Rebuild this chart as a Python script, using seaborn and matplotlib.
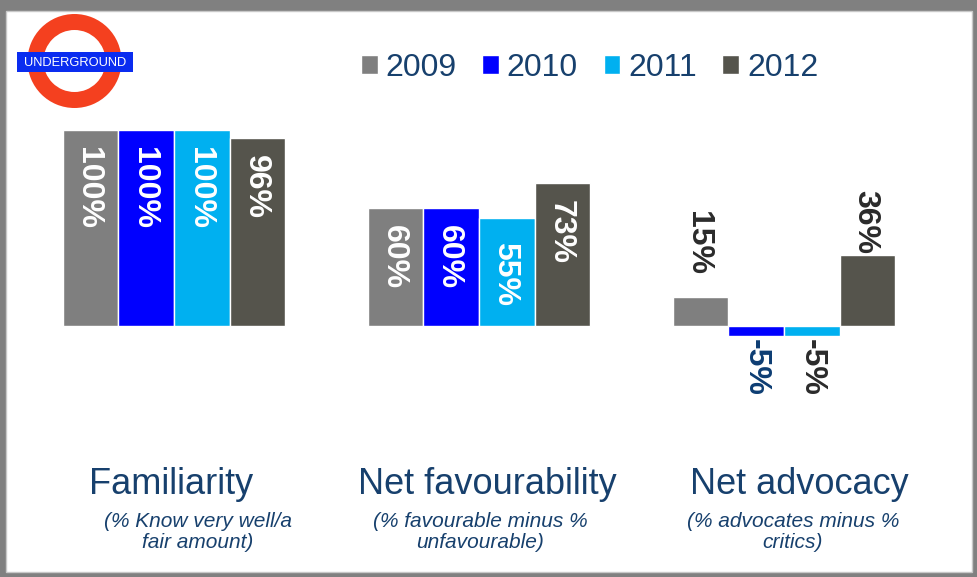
import numpy as np
import pandas as pd
import matplotlib
matplotlib.use("Agg")
import matplotlib.pyplot as plt
from matplotlib.patches import Rectangle, Wedge
import seaborn as sns

# ---- data -------------------------------------------------------------
metrics = ["Familiarity", "Net favourability", "Net advocacy"]
subtitles = [["(% Know very well/a", "fair amount)"],
             ["(% favourable minus %", "unfavourable)"],
             ["(% advocates minus %", "critics)"]]
years = ["2009", "2010", "2011", "2012"]
v2009 = [100, 60, 15]
v2010 = [100, 60, -5]
v2011 = [100, 55, -5]
v2012 = [96, 73, 36]

df = pd.DataFrame({
    "metric": metrics * len(years),
    "year": np.repeat(years, len(metrics)),
    "value": v2009 + v2010 + v2011 + v2012,
})

# ---- style ------------------------------------------------------------
sns.set_style("white")
plt.rcParams["font.family"] = ["Liberation Sans", "DejaVu Sans"]

palette = {"2009": "#7f7f7f", "2010": "#0000ff", "2011": "#00b0f0", "2012": "#55544c"}
NAVY = "#17406d"
outside_colors = {"2009": "#2b2b2b", "2010": "#0d3d73", "2011": "#2b2b2b", "2012": "#2b2b2b"}
# per-label nudges (pixels) for a few value labels
label_nudge = {("Net favourability", "2011"): -7, ("Net advocacy", "2009"): 5,
               ("Net advocacy", "2012"): -16}

W, H = 978, 577
fig = plt.figure(figsize=(W / 100, H / 100), dpi=100)
fig.patch.set_facecolor("#808080")

# page layer in pixel coordinates: white card, roundel, captions
page = fig.add_axes([0, 0, 1, 1], zorder=0)
page.set_xlim(0, W)
page.set_ylim(H, 0)
page.axis("off")
page.add_patch(Rectangle((6, 11), 966, 561, facecolor="white",
                         edgecolor="#c8c8c8", lw=1))

page.add_patch(Wedge((74.5, 61), 47, 0, 360, width=16,
                     facecolor="#f4401f", edgecolor="none"))
page.add_patch(Rectangle((17, 52), 116, 20, facecolor="#0a2cf0", edgecolor="none"))
page.text(75, 62.5, "UNDERGROUND", color="white", fontsize=9.3,
          ha="center", va="center")

# ---- bars -------------------------------------------------------------
ax = fig.add_axes([21.5 / W, (H - 420) / H, 915 / W, 300 / H], zorder=1)
sns.barplot(data=df, x="metric", y="value", hue="year",
            order=metrics, hue_order=years, palette=palette,
            width=0.731, saturation=1, errorbar=None, ax=ax)
ax.patch.set_alpha(0)
ax.set_xlim(-0.5, 2.5)
ax.set_ylim(-(420 - 326) / 1.96, (326 - 120) / 1.96)
ax.axis("off")

for cont, yr in zip(ax.containers, years):
    for bar, metric in zip(cont, metrics):
        v = bar.get_height()
        xc = bar.get_x() + bar.get_width() / 2
        nudge = label_nudge.get((metric, yr), 0)
        txt = f"{v:.0f}%"
        if v >= 40:
            ax.annotate(txt, (xc, v), xytext=(-2, -17 + nudge),
                        textcoords="offset pixels", rotation=270,
                        ha="center", va="top", color="white",
                        fontsize=23, fontweight="bold")
        elif v >= 0:
            ax.annotate(txt, (xc, v), xytext=(-2, 17 + nudge),
                        textcoords="offset pixels", rotation=270,
                        ha="center", va="bottom", color=outside_colors[yr],
                        fontsize=23, fontweight="bold")
        else:
            ax.annotate(txt, (xc, v), xytext=(0, -3 + nudge),
                        textcoords="offset pixels", rotation=270,
                        ha="center", va="top", color=outside_colors[yr],
                        fontsize=23, fontweight="bold")

leg = ax.legend(ncol=4, loc="upper left", bbox_to_anchor=(361 / W, 1 - 53 / H),
                bbox_transform=fig.transFigure, frameon=False, fontsize=23,
                handlelength=0.52, handleheight=0.52, handletextpad=0.25,
                columnspacing=0.8, borderpad=0, borderaxespad=0)
for t in leg.get_texts():
    t.set_color(NAVY)

# ---- captions under each group -----------------------------------------
title_dx = [-2.5, 8, 15]
sub_dx = [24, 1, 9]
for i, (metric, sub) in enumerate(zip(metrics, subtitles)):
    gx = ax.transData.transform((i, 0))[0]
    page.text(gx + title_dx[i], 494, metric, fontsize=26, color=NAVY,
              ha="center", va="baseline")
    page.text(gx + sub_dx[i], 527, sub[0], fontsize=15, color=NAVY,
              style="italic", ha="center", va="baseline")
    page.text(gx + sub_dx[i], 548, sub[1], fontsize=15, color=NAVY,
              style="italic", ha="center", va="baseline")

fig.savefig("out.png", dpi=100, facecolor=fig.get_facecolor())
